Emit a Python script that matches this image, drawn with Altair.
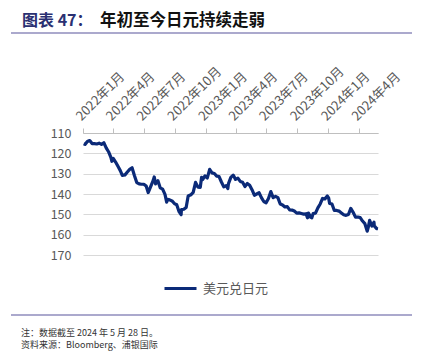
import altair as alt
import pandas as pd

# ---- data ----
dates = [
    "2022-01-03", "2022-01-07", "2022-01-14", "2022-01-21", "2022-01-28", "2022-02-04", "2022-02-11",
    "2022-02-18", "2022-02-25", "2022-03-04", "2022-03-11", "2022-03-18", "2022-03-25", "2022-03-28",
    "2022-04-01", "2022-04-08", "2022-04-15", "2022-04-22", "2022-04-28", "2022-05-06", "2022-05-13",
    "2022-05-20", "2022-05-27", "2022-06-03", "2022-06-10", "2022-06-17", "2022-06-24", "2022-07-01",
    "2022-07-08", "2022-07-14", "2022-07-22", "2022-07-29", "2022-08-01", "2022-08-05", "2022-08-12",
    "2022-08-19", "2022-08-26", "2022-09-02", "2022-09-07", "2022-09-09", "2022-09-16", "2022-09-23",
    "2022-09-30", "2022-10-07", "2022-10-14", "2022-10-20", "2022-10-21", "2022-10-28", "2022-11-04",
    "2022-11-10", "2022-11-18", "2022-11-25", "2022-12-02", "2022-12-09", "2022-12-16", "2022-12-20",
    "2022-12-23", "2022-12-30",
    "2023-01-06", "2023-01-13", "2023-01-20", "2023-01-27", "2023-02-03", "2023-02-10", "2023-02-17",
    "2023-02-24", "2023-03-03", "2023-03-08", "2023-03-10", "2023-03-17", "2023-03-24", "2023-03-31",
    "2023-04-07", "2023-04-14", "2023-04-21", "2023-04-28", "2023-05-05", "2023-05-12", "2023-05-19",
    "2023-05-26", "2023-06-02", "2023-06-09", "2023-06-16", "2023-06-23", "2023-06-30", "2023-07-07",
    "2023-07-14", "2023-07-21", "2023-07-28", "2023-08-04", "2023-08-11", "2023-08-18", "2023-08-25",
    "2023-09-01", "2023-09-08", "2023-09-15", "2023-09-22", "2023-09-29", "2023-10-06", "2023-10-13",
    "2023-10-20", "2023-10-27", "2023-10-31", "2023-11-03", "2023-11-10", "2023-11-13", "2023-11-17",
    "2023-11-24", "2023-12-01", "2023-12-08", "2023-12-15", "2023-12-22", "2023-12-29",
    "2024-01-02", "2024-01-05", "2024-01-12", "2024-01-19", "2024-01-26", "2024-02-02", "2024-02-09",
    "2024-02-16", "2024-02-23", "2024-03-01", "2024-03-08", "2024-03-15", "2024-03-22", "2024-03-29",
    "2024-04-05", "2024-04-12", "2024-04-19", "2024-04-26", "2024-04-29", "2024-05-03", "2024-05-10",
    "2024-05-16", "2024-05-17", "2024-05-24", "2024-05-28",
]
usdjpy = [
    115.3, 115.6, 114.2, 113.7, 115.2, 115.2, 115.4,
    115.0, 115.6, 114.8, 117.3, 119.2, 122.0, 123.9,
    122.5, 124.3, 126.4, 128.5, 130.8, 130.6, 129.2,
    127.9, 127.1, 130.9, 134.4, 135.0, 135.2, 135.2,
    136.1, 139.3, 136.1, 133.3, 131.6, 135.0, 133.5,
    137.0, 137.6, 140.2, 144.0, 142.6, 142.9, 143.4,
    144.7, 145.3, 148.7, 150.2, 147.7, 147.5, 146.6,
    141.0, 140.4, 139.2, 134.3, 136.6, 136.7, 131.8,
    132.9, 131.1,
    132.1, 127.9, 129.6, 129.9, 131.2, 131.4, 134.1,
    136.5, 135.9, 137.3, 134.9, 131.8, 130.7, 132.8,
    132.2, 133.8, 134.2, 136.3, 134.8, 135.7, 137.9,
    140.6, 140.0, 139.4, 141.8, 143.7, 144.3, 142.2,
    138.8, 141.8, 141.2, 141.8, 144.9, 145.4, 146.4,
    146.2, 147.8, 147.9, 148.4, 149.4, 149.3, 149.6,
    149.9, 149.7, 151.7, 149.4, 151.5, 151.7, 149.6,
    149.4, 146.8, 144.9, 142.2, 142.4, 141.0,
    141.9, 144.6, 144.9, 148.1, 148.1, 148.4, 149.3,
    150.2, 150.5, 150.1, 147.1, 149.0, 151.4, 151.3,
    151.6, 153.3, 154.6, 158.3, 156.4, 153.0, 155.8,
    153.9, 155.7, 157.0, 157.1,
]
tick_months = [(2022, 1), (2022, 4), (2022, 7), (2022, 10), (2023, 1), (2023, 4),
               (2023, 7), (2023, 10), (2024, 1), (2024, 4)]
y_ticks = [110, 120, 130, 140, 150, 160, 170]
series_name = "美元兑日元"
title_prefix = "图表 47："
title_main = "年初至今日元持续走弱"
note_text = "注：数据截至 2024 年 5 月 28 日。"
source_text = "资料来源：Bloomberg、浦银国际"

df = pd.DataFrame({"date": dates, "value": usdjpy, "series": series_name})

FONT = "Noto Sans CJK SC"
L, T = 83, 133          # plot origin in page pixels
W, H = 295, 122         # plot size
PAGE_W, PAGE_H = 434, 351

line = alt.Chart(df).mark_line(strokeWidth=3.2, strokeJoin="round").encode(
    x=alt.X(
        "date:T",
        scale=alt.Scale(type="utc", domain=[alt.DateTime(year=2022, month=1, date=1, utc=True),
                                            alt.DateTime(year=2024, month=5, date=28, utc=True)]),
        axis=alt.Axis(
            orient="top", title=None, grid=False,
            values=[alt.DateTime(year=y, month=m, date=1, utc=True) for y, m in tick_months],
            labelExpr="utcyear(datum.value) + '年' + (utcmonth(datum.value) + 1) + '月'",
            labelAngle=-45, labelAlign="left", labelBaseline="bottom",
            labelFont=FONT, labelFontSize=13, labelColor="#595959",
            labelPadding=5, labelOverlap=False, labelFlush=False, labelBound=False,
            domain=True, domainColor="#BFBFBF", ticks=True, tickColor="#BFBFBF", tickSize=5,
        ),
    ),
    y=alt.Y(
        "value:Q",
        scale=alt.Scale(domain=[110, 170], reverse=True, nice=False, zero=False),
        axis=alt.Axis(
            values=y_ticks, title=None, domain=False, ticks=False, grid=True,
            gridColor="#D9D9D9", gridWidth=1.2,
            labelFont=FONT, labelFontSize=12.5, labelColor="#595959", labelPadding=12,
        ),
    ),
    color=alt.Color(
        "series:N",
        scale=alt.Scale(range=["#0B2A78"]),
        legend=alt.Legend(
            title=None, orient="none", legendX=80, legendY=138,
            symbolType="stroke", symbolSize=1024, symbolStrokeWidth=3,
            labelFont=FONT, labelFontSize=13, labelColor="#595959", labelOffset=5,
        ),
    ),
)


def text_layer(txt, x, y, size, color, weight="normal"):
    return alt.Chart(pd.DataFrame({"t": [txt]})).mark_text(
        align="left", baseline="middle", font=FONT, fontSize=size, fontWeight=weight, color=color
    ).encode(text="t:N", x=alt.value(x - L), y=alt.value(y - T))


def hrule(y):
    return alt.Chart(pd.DataFrame({"k": [0]})).mark_rule(color="#8F8DBC", strokeWidth=1.5).encode(
        x=alt.value(11 - L), x2=alt.value(412 - L), y=alt.value(y - T)
    )


chart = alt.layer(
    line,
    text_layer(title_prefix, 22, 21, 16, "#2A3072", "bold"),
    text_layer(title_main, 100, 21, 16.5, "#111111", "bold"),
    hrule(33),
    hrule(315),
    text_layer(note_text, 21, 332.5, 9, "#333333"),
    text_layer(source_text, 21, 344.5, 9, "#333333"),
).properties(
    width=W, height=H,
    autosize=alt.AutoSizeParams(type="none"),
    padding={"left": L, "top": T, "right": PAGE_W - L - W, "bottom": PAGE_H - T - H},
).configure_view(stroke=None)

chart.save("out.html", embed_options={"renderer": "svg", "actions": False})
